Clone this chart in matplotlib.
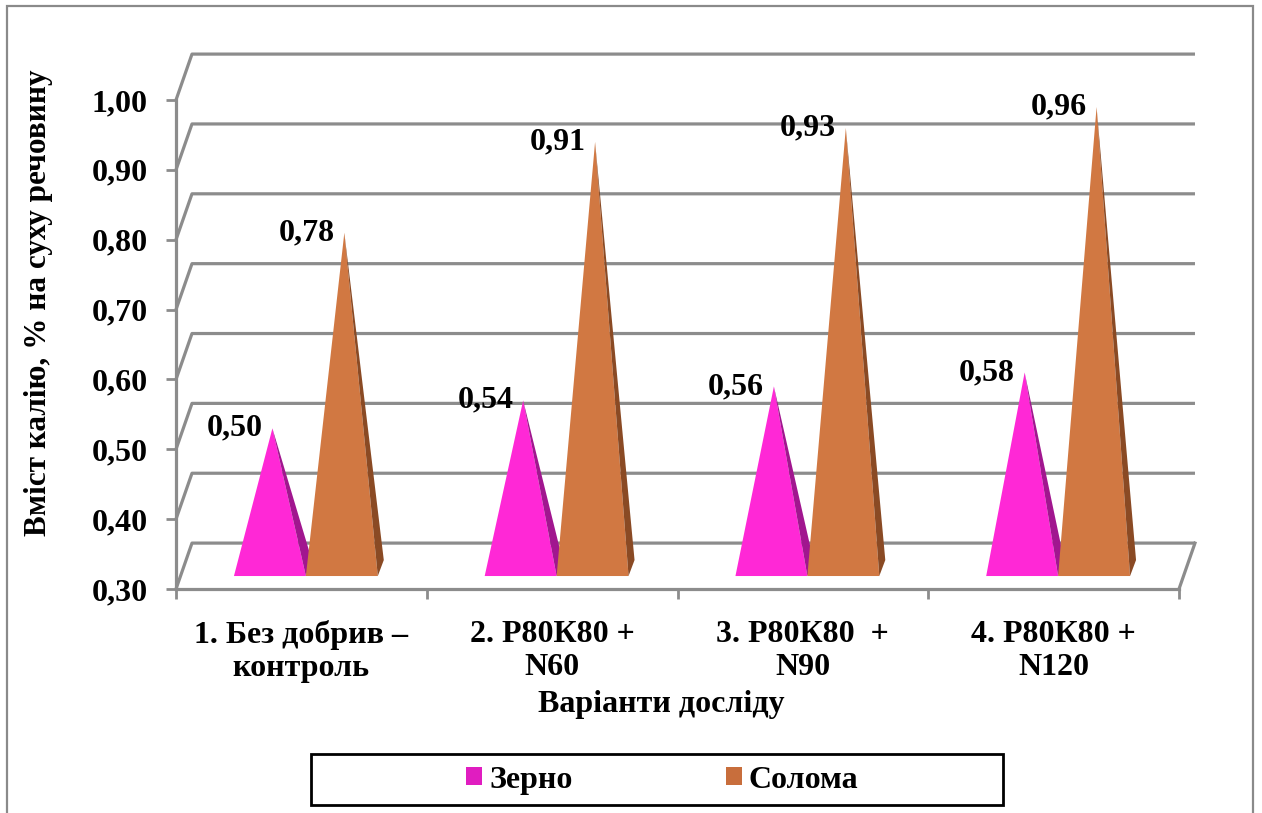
import matplotlib
matplotlib.use("Agg")
import matplotlib.pyplot as plt
from matplotlib.patches import Polygon, Rectangle, Patch

# ---- data ----
categories = ["1. Без добрив –\nконтроль", "2. Р80К80 +\nN60", "3. Р80К80  +\nN90", "4. Р80К80 +\nN120"]
grain = [0.50, 0.54, 0.56, 0.58]
straw = [0.78, 0.91, 0.93, 0.96]
series_names = ["Зерно", "Солома"]
yticks = [0.30, 0.40, 0.50, 0.60, 0.70, 0.80, 0.90, 1.00]
ytick_labels = ["0,30", "0,40", "0,50", "0,60", "0,70", "0,80", "0,90", "1,00"]
ylabel = "Вміст калію, % на суху речовину"
xlabel = "Варіанти досліду"

FONT = "Liberation Serif"
FS = 23
W, H = 1262, 813
fig = plt.figure(figsize=(W / 100, H / 100), dpi=100)
fig.patch.set_facecolor("white")

# outer chart border
fig.add_artist(Rectangle((7 / W, -0.05), (1253 - 7) / W, 1 - 6 / H + 0.05,
                         transform=fig.transFigure, fill=False,
                         edgecolor="#8a8a8a", lw=1.6))

left, right, bottom, top = 176 / W, 1179 / W, 1 - 589 / H, 1 - 100 / H
ax = fig.add_axes([left, bottom, right - left, top - bottom])
ax.set_xlim(0, 4)
ax.set_ylim(0.30, 1.00)
ax.patch.set_alpha(0)

grid_c = "#8c8c8c"
# depth offsets (data units)
dx = 16 / 251
dy = 46 / 700

# back wall gridlines with side connectors
for v in yticks:
    ax.plot([0, dx, 4 + dx], [v, v + dy, v + dy], color=grid_c, lw=2.3,
            clip_on=False, solid_capstyle="butt", zorder=1)
# floor right edge
ax.plot([4, 4 + dx], [0.30, 0.30 + dy], color=grid_c, lw=2.3, clip_on=False, zorder=1)

# spines / ticks
for s in ["top", "right"]:
    ax.spines[s].set_visible(False)
for s in ["left", "bottom"]:
    ax.spines[s].set_color(grid_c)
    ax.spines[s].set_linewidth(2.3)
ax.set_yticks(yticks)
ax.set_yticklabels(ytick_labels, fontfamily=FONT, fontweight="bold", fontsize=FS)
ax.tick_params(axis="y", direction="out", length=7, width=2, color=grid_c, pad=13.5)
ax.set_xticks([0, 1, 2, 3, 4])
ax.set_xticklabels([])
ax.tick_params(axis="x", which="major", direction="out", length=7, width=2, color=grid_c)
ax.set_xticks([0.5, 1.5, 2.5, 3.5], minor=True)
ax.set_xticklabels(categories, minor=True, fontfamily=FONT, fontweight="bold",
                   fontsize=FS, linespacing=1.2)
ax.tick_params(axis="x", which="minor", length=0, pad=22)

# pyramids
pw = 72 / 251
shift = 4.5 / 251
base_y = 0.30 + 13 / 700
apex_extra = 0.03
colors = [("#ff28d6", "#a1168f"), ("#d17842", "#8a4a24")]
for i in range(len(categories)):
    c = i + 0.5 + shift
    for k, vals in enumerate([grain, straw]):
        x0 = c - pw + k * pw
        x1 = x0 + pw
        ax_ = x0 + pw / 2 + 2.5 / 251
        ay = vals[i] + apex_extra
        front, side = colors[k]
        ax.add_patch(Polygon([[x0, base_y], [x1, base_y], [ax_, ay]], closed=True,
                             facecolor=front, edgecolor="none", zorder=3 + 2 * k,
                             clip_on=False))
        ax.add_patch(Polygon([[ax_, ay], [x1, base_y], [x1 + 6 / 251, base_y + 16 / 700]],
                             closed=True, facecolor=side, edgecolor="none",
                             zorder=3 + 2 * k, clip_on=False))
        ax.annotate(f"{vals[i]:.2f}".replace(".", ","), xy=(ax_, ay),
                    xytext=(-7, 0), textcoords="offset points",
                    ha="right", va="center", fontfamily=FONT, fontweight="bold",
                    fontsize=FS, zorder=10, annotation_clip=False)

# axis titles
fig.text(39 / W, 1 - 303 / H, ylabel, rotation=90, ha="center", va="center",
         fontfamily=FONT, fontweight="bold", fontsize=22.5)
fig.text(661 / W, 1 - 704 / H, xlabel, ha="center", va="center",
         fontfamily=FONT, fontweight="bold", fontsize=FS)

# legend box
fig.add_artist(Rectangle((311 / W, 1 - 805 / H), 692 / W, 51 / H,
                         transform=fig.transFigure, fill=False,
                         edgecolor="black", lw=2))
handles = [Patch(facecolor="#e01dc0", edgecolor="none"),
           Patch(facecolor="#c86e3c", edgecolor="none")]
fig.legend(handles, series_names, loc="center left",
           bbox_to_anchor=(466 / W, 1 - 780 / H), ncol=2, frameon=False,
           prop={"family": FONT, "weight": "bold", "size": FS},
           handlelength=0.5, handleheight=0.5, handletextpad=0.22,
           columnspacing=4.8, borderpad=0, borderaxespad=0)

fig.savefig("out.png", dpi=100)
